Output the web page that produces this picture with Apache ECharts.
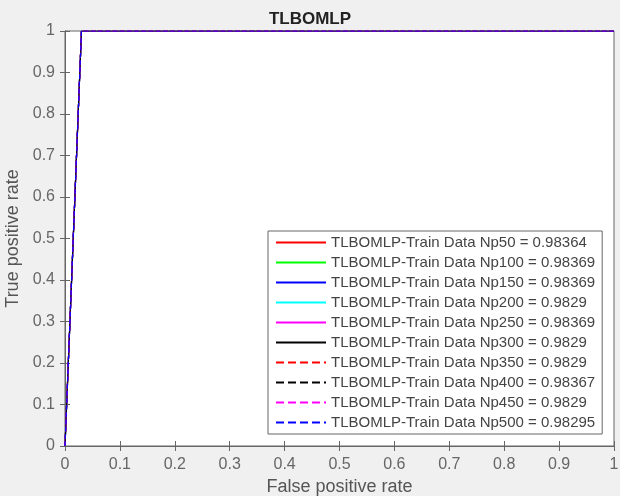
<!DOCTYPE html>
<html><head><meta charset="utf-8">
<script src="https://cdn.jsdelivr.net/npm/echarts@6/dist/echarts.min.js"></script>
<style>html,body{margin:0;padding:0;background:#f0f0f0}#c{width:620px;height:496px}</style>
</head><body><div id="c"></div>
<script>
// Data
var popSizes = ['Np50','Np100','Np150','Np200','Np250','Np300','Np350','Np400','Np450','Np500'];
var aucValues = ['0.98364','0.98369','0.98369','0.9829','0.98369','0.9829','0.9829','0.98367','0.9829','0.98295'];
var lineColors = ['#ff0000','#00ff00','#0000ff','#00ffff','#ff00ff','#000000','#ff0000','#000000','#ff00ff','#0000ff'];
var lineTypes = ['solid','solid','solid','solid','solid','solid','dashed','dashed','dashed','dashed'];
var fpr = [0, 0.03, 1];
var tpr = [0, 1, 1];

var font = 'Liberation Sans, Arial, sans-serif';
var series = popSizes.map(function(p, i){
  return {
    name: 'TLBOMLP-Train Data ' + p + ' = ' + aucValues[i],
    type: 'line',
    symbol: 'none',
    data: fpr.map(function(x, k){ return [x, tpr[k]]; }),
    lineStyle: { color: lineColors[i], type: lineTypes[i], width: 1.2 },
    itemStyle: { color: lineColors[i] },
    animation: false
  };
});

function fmt(v){ return v === 0 ? '0' : (v === 1 ? '1' : v.toFixed(1)); }

var chart = echarts.init(document.getElementById('c'));
chart.setOption({
  backgroundColor: '#f0f0f0',
  animation: false,
  title: { text: 'TLBOMLP', left: 'center', top: 6, textStyle: { fontFamily: font, fontSize: 17, fontWeight: 'bold', color: '#222' } },
  grid: { left: 65, right: 6, top: 31, bottom: 50, containLabel: false, outerBoundsMode: 'none', show: true, backgroundColor: '#ffffff', borderColor: '#666', borderWidth: 1 },
  xAxis: [{
    type: 'value', min: 0, max: 1, interval: 0.1, position: 'bottom',
    name: 'False positive rate', nameLocation: 'middle', nameGap: 32,
    nameTextStyle: { fontFamily: font, fontSize: 18, color: '#555' },
    axisLine: { show: true, lineStyle: { color: '#666' } },
    axisTick: { show: true, inside: true, length: 5, lineStyle: { color: '#666' } },
    axisLabel: { fontFamily: font, fontSize: 16, color: '#666', margin: 11, formatter: fmt },
    splitLine: { show: false }
  },{
    type: 'value', min: 0, max: 1, interval: 0.1, position: 'top',
    axisLine: { show: true, lineStyle: { color: '#666' } },
    axisTick: { show: true, inside: true, length: 5, lineStyle: { color: '#666' } },
    axisLabel: { show: false }, splitLine: { show: false }
  }],
  yAxis: [{
    type: 'value', min: 0, max: 1, interval: 0.1, position: 'left',
    name: 'True positive rate', nameLocation: 'middle', nameGap: 38, nameRotate: 90,
    nameTextStyle: { fontFamily: font, fontSize: 18, color: '#555' },
    axisLine: { show: true, lineStyle: { color: '#666' } },
    axisTick: { show: true, inside: true, length: 5, lineStyle: { color: '#666' } },
    axisLabel: { fontFamily: font, fontSize: 16, color: '#666', margin: 10, formatter: fmt },
    splitLine: { show: false }
  },{
    type: 'value', min: 0, max: 1, interval: 0.1, position: 'right',
    axisLine: { show: true, lineStyle: { color: '#666' } },
    axisTick: { show: true, inside: true, length: 5, lineStyle: { color: '#666' } },
    axisLabel: { show: false }, splitLine: { show: false }
  }],
  legend: {
    orient: 'vertical', left: 268, top: 231,
    padding: [4, 7, 4, 7], itemGap: 5, itemWidth: 50, itemHeight: 14,
    backgroundColor: '#ffffff', borderColor: '#666', borderWidth: 1,
    itemStyle: { opacity: 0 },
    textStyle: { fontFamily: font, fontSize: 15, color: '#444' }
  },
  series: series
});
</script></body></html>
